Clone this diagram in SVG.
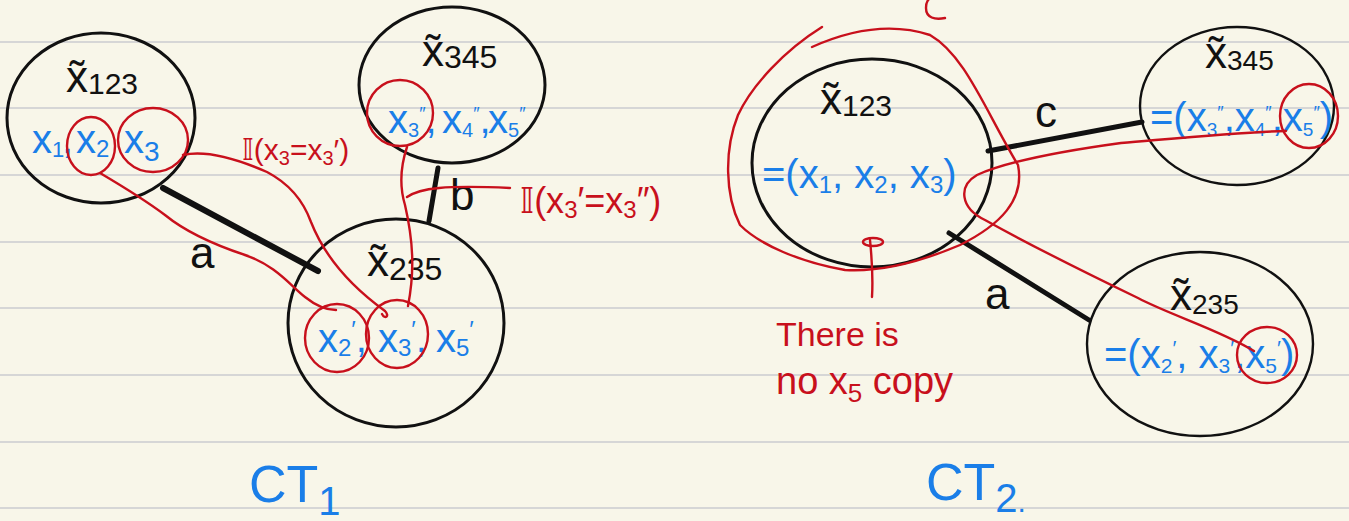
<svg xmlns="http://www.w3.org/2000/svg" width="1349" height="521" viewBox="0 0 1349 521">
<style>
  .bg{fill:#f8f6e9}
  .rule{stroke:#d6d6d6;stroke-width:2}
  .node{fill:none;stroke:#111;stroke-width:3}
  .node2{fill:none;stroke:#111;stroke-width:2.4}
  .edge{stroke:#111;stroke-linecap:round;fill:none}
  .red{fill:none;stroke:#c8101c;stroke-width:2.4;stroke-linecap:round;stroke-linejoin:round}
  text{font-family:"Liberation Sans","DejaVu Sans",sans-serif}
  .lbl{fill:#111;font-size:44px}
  .blu{fill:#1a7ee8;font-size:40px}
  .rt{fill:#c8101c}
  .ct{fill:#1a7ee8;font-size:52px}
</style>
<rect class="bg" x="0" y="0" width="1349" height="521"/>
<g id="rules">
  <line class="rule" x1="0" y1="42" x2="1349" y2="42"/>
  <line class="rule" x1="0" y1="108" x2="1349" y2="108"/>
  <line class="rule" x1="0" y1="175" x2="1349" y2="175"/>
  <line class="rule" x1="0" y1="242" x2="1349" y2="242"/>
  <line class="rule" x1="0" y1="308" x2="1349" y2="308"/>
  <line class="rule" x1="0" y1="375" x2="1349" y2="375"/>
  <line class="rule" x1="0" y1="442" x2="1349" y2="442"/>
  <line class="rule" x1="0" y1="508" x2="1349" y2="508"/>
</g>

<!-- connectors -->
<g id="connectors">
  <line id="ct1-a" class="edge" x1="163" y1="188" x2="318" y2="271" stroke-width="6"/>
  <line id="ct1-b" class="edge" x1="438" y1="168" x2="429" y2="221" stroke-width="5"/>
  <line id="ct2-c" class="edge" x1="988" y1="151" x2="1142" y2="122" stroke-width="5"/>
  <line id="ct2-a" class="edge" x1="949" y1="233" x2="1089" y2="320" stroke-width="5"/>
  <text class="lbl" x="190" y="268" font-size="40">a</text>
  <text class="lbl" x="450" y="210" font-size="38">b</text>
  <text class="lbl" x="1035" y="127" font-size="44">c</text>
  <text class="lbl" x="985" y="309" font-size="40">a</text>
</g>

<!-- CT1 nodes -->
<g id="ct1-x123">
  <ellipse class="node" cx="101" cy="118" rx="94" ry="85"/>
  <text class="lbl" x="66" y="92">x̃<tspan font-size="30" dy="2">123</tspan></text>
  <text class="blu" y="153"><tspan x="32">x</tspan><tspan font-size="22" dy="4">1</tspan><tspan x="62" dy="-4">,</tspan><tspan x="76">x</tspan><tspan font-size="24" dy="4">2</tspan><tspan x="124" dy="-4">x</tspan><tspan font-size="28" dy="8">3</tspan></text>
</g>
<g id="ct1-x345">
  <ellipse class="node" cx="452" cy="85" rx="93" ry="78"/>
  <text class="lbl" x="422" y="66">x̃<tspan font-size="32" dy="2">345</tspan></text>
  <text class="blu" y="133" font-size="36"><tspan x="388">x</tspan><tspan font-size="20" dy="4">3</tspan><tspan font-size="18" dy="-17">″</tspan><tspan dy="13">,</tspan><tspan x="442">x</tspan><tspan font-size="20" dy="4">4</tspan><tspan font-size="18" dy="-17">″</tspan><tspan dy="13">,</tspan><tspan x="488">x</tspan><tspan font-size="20" dy="4">5</tspan><tspan font-size="18" dy="-17">″</tspan></text>
</g>
<g id="ct1-x235">
  <ellipse class="node" cx="396" cy="323" rx="108" ry="104"/>
  <text class="lbl" x="367" y="276">x̃<tspan font-size="32" dy="4">235</tspan></text>
  <text class="blu" y="352"><tspan x="318">x</tspan><tspan font-size="24" dy="4">2</tspan><tspan font-size="24" dy="-18">′</tspan><tspan dy="14">,</tspan><tspan x="378">x</tspan><tspan font-size="24" dy="4">3</tspan><tspan font-size="24" dy="-18">′</tspan><tspan dy="14">,</tspan><tspan x="436">x</tspan><tspan font-size="24" dy="4">5</tspan><tspan font-size="24" dy="-18">′</tspan></text>
</g>

<!-- CT1 annotations -->
<g id="ct1-annotations">
  <ellipse class="red" cx="91" cy="146" rx="24" ry="29"/>
  <ellipse class="red" cx="153" cy="140" rx="35" ry="32"/>
  <ellipse class="red" cx="400" cy="113" rx="33" ry="33"/>
  <ellipse class="red" cx="337" cy="338" rx="32" ry="34"/>
  <ellipse class="red" cx="397" cy="334" rx="31" ry="34"/>
  <path class="red" d="M183,155 C205,150 235,158 267,172 C290,184 303,200 311,222 C322,250 345,282 385,311 C390,316 385,320 382,314"/>
  <path class="red" d="M100,173 C122,186 145,200 165,215 C187,233 215,245 245,255 C275,265 290,285 305,297 C315,305 325,310 336,310"/>
  <path class="red" d="M407,147 C401,165 399,185 405,205 C413,240 415,270 408,306"/>
  <path class="red" d="M407,197 C420,188 445,185 510,188"/>
  <text class="rt" x="242" y="160" font-size="30">𝕀(x<tspan font-size="20" dy="5">3</tspan><tspan dy="-5">=x</tspan><tspan font-size="20" dy="5">3</tspan><tspan dy="-5">′)</tspan></text>
  <text class="rt" x="520" y="213" font-size="36">𝕀(x<tspan font-size="24" dy="5">3</tspan><tspan dy="-5">′=x</tspan><tspan font-size="24" dy="5">3</tspan><tspan dy="-5">″)</tspan></text>
</g>

<!-- CT2 nodes -->
<g id="ct2-x123">
  <ellipse class="node" cx="872" cy="163" rx="120" ry="104"/>
  <text class="lbl" x="820" y="114">x̃<tspan font-size="30" dy="2">123</tspan></text>
  <text class="blu" x="762" y="188" font-size="38">=(x<tspan font-size="24" dy="5">1</tspan><tspan dy="-5">, x</tspan><tspan font-size="24" dy="5">2</tspan><tspan dy="-5">, x</tspan><tspan font-size="24" dy="5">3</tspan><tspan dy="-5">)</tspan></text>
</g>
<g id="ct2-x345">
  <ellipse class="node2" cx="1237" cy="106" rx="97" ry="79"/>
  <text class="lbl" x="1205" y="68" font-size="40">x̃<tspan font-size="28" dy="2">345</tspan></text>
  <text class="blu" x="1150" y="131" font-size="31">=(x<tspan font-size="19" dy="5">3</tspan><tspan font-size="18" dy="-17">″</tspan><tspan dy="12">,x</tspan><tspan font-size="19" dy="5">4</tspan><tspan font-size="18" dy="-17">″</tspan><tspan dy="12">,x</tspan><tspan font-size="19" dy="5">5</tspan><tspan font-size="18" dy="-17">″</tspan><tspan dy="12">)</tspan></text>
</g>
<g id="ct2-x235">
  <ellipse class="node2" cx="1200" cy="344" rx="113" ry="92"/>
  <text class="lbl" x="1170" y="310" font-size="40">x̃<tspan font-size="28" dy="4">235</tspan></text>
  <text class="blu" x="1104" y="368" font-size="35">=(x<tspan font-size="21" dy="5">2</tspan><tspan font-size="21" dy="-18">′</tspan><tspan dy="13">, x</tspan><tspan font-size="21" dy="5">3</tspan><tspan font-size="21" dy="-18">′</tspan><tspan dy="13">,x</tspan><tspan font-size="21" dy="5">5</tspan><tspan font-size="21" dy="-18">′</tspan><tspan dy="13">)</tspan></text>
</g>

<!-- CT2 annotations -->
<g id="ct2-annotations">
  <path class="red" d="M812,47 C850,30 890,22 930,35 C965,55 985,110 1018,165 C1025,200 1000,225 960,245 C920,262 880,272 845,270 C800,262 760,245 740,225 C725,195 724,150 738,115 C752,85 785,50 822,27"/>
  <path class="red" d="M945,18 C935,20 926,18 926,8 C926,4 927,1 929,-1"/>
  <ellipse class="red" cx="1309" cy="116" rx="29" ry="32"/>
  <ellipse class="red" cx="1267" cy="355" rx="30" ry="28"/>
  <path class="red" d="M1286,131 C1240,132 1180,138 1121,143 C1070,150 1010,160 977,175 C958,186 960,208 985,220 C1030,245 1080,270 1138,298 C1170,315 1220,330 1254,351"/>
  <ellipse class="red" cx="873" cy="242" rx="10" ry="4"/>
  <path class="red" d="M870,240 C872,260 873,280 872,297"/>
  <text class="rt" x="776" y="346" font-size="34">There is</text>
  <text class="rt" x="776" y="394" font-size="38">no x<tspan font-size="26" dy="8">5</tspan><tspan dy="-8"> copy</tspan></text>
</g>

<!-- Tree labels -->
<g id="labels">
  <text class="ct" x="249" y="502">CT<tspan font-size="40" dy="13">1</tspan></text>
  <text class="ct" x="926" y="500">CT<tspan font-size="40" dy="12">2</tspan><tspan font-size="30">.</tspan></text>
</g>
</svg>
